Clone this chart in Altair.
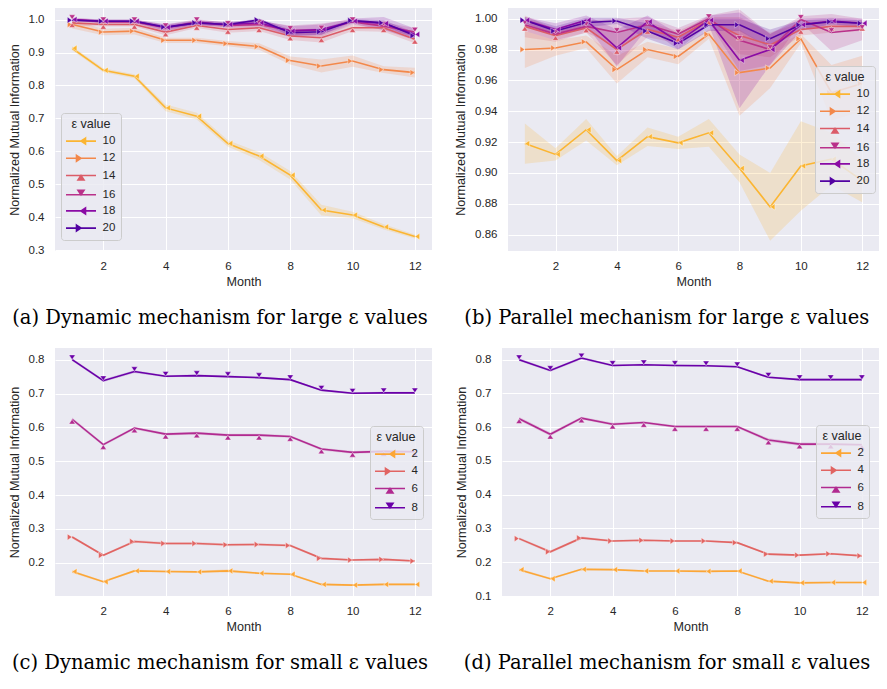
import altair as alt
import pandas as pd

MONTHS = list(range(1, 13))

# ---------------- (a) Dynamic mechanism, large epsilon ----------------
A_EPS = ["10", "12", "14", "16", "18", "20"]
A_MEAN = {
    "10": [0.913, 0.846, 0.828, 0.732, 0.707, 0.624, 0.586, 0.528, 0.422, 0.407, 0.371, 0.342],
    "12": [0.985, 0.962, 0.965, 0.937, 0.937, 0.927, 0.918, 0.876, 0.859, 0.874, 0.848, 0.839],
    "14": [0.990, 0.985, 0.985, 0.962, 0.982, 0.970, 0.975, 0.950, 0.945, 0.975, 0.975, 0.940],
    "16": [1.000, 0.993, 0.993, 0.975, 0.993, 0.982, 0.985, 0.967, 0.968, 0.993, 0.980, 0.962],
    "18": [1.000, 0.995, 0.995, 0.976, 0.990, 0.985, 0.990, 0.965, 0.970, 0.995, 0.988, 0.955],
    "20": [0.998, 0.995, 0.995, 0.977, 0.990, 0.985, 0.999, 0.960, 0.963, 0.997, 0.990, 0.951],
}
A_ERR = {
    "10": [0.006, 0.006, 0.006, 0.010, 0.010, 0.010, 0.012, 0.013, 0.016, 0.010, 0.008, 0.006],
    "12": [0.012, 0.010, 0.010, 0.008, 0.008, 0.008, 0.010, 0.012, 0.020, 0.017, 0.010, 0.015],
    "14": [0.008, 0.006, 0.006, 0.010, 0.008, 0.010, 0.010, 0.012, 0.015, 0.010, 0.012, 0.012],
    "16": [0.006, 0.006, 0.006, 0.010, 0.008, 0.008, 0.010, 0.015, 0.020, 0.008, 0.012, 0.012],
    "18": [0.004, 0.005, 0.005, 0.010, 0.008, 0.008, 0.008, 0.015, 0.015, 0.008, 0.020, 0.018],
    "20": [0.004, 0.004, 0.004, 0.006, 0.006, 0.006, 0.004, 0.010, 0.010, 0.004, 0.008, 0.010],
}

# ---------------- (b) Parallel mechanism, large epsilon ----------------
B_EPS = ["10", "12", "14", "16", "18", "20"]
B_MEAN = {
    "10": [0.919, 0.912, 0.928, 0.908, 0.9235, 0.9195, 0.926, 0.903, 0.878, 0.9045, 0.909, 0.895],
    "12": [0.980, 0.981, 0.985, 0.967, 0.980, 0.9755, 0.990, 0.965, 0.968, 0.987, 0.952, 0.958],
    "14": [0.995, 0.989, 0.994, 0.980, 0.993, 0.988, 0.999, 0.989, 0.983, 0.993, 0.995, 0.995],
    "16": [0.996, 0.990, 0.995, 0.991, 0.996, 0.990, 1.000, 0.986, 0.980, 0.9995, 0.991, 0.993],
    "18": [0.999, 0.993, 0.999, 0.981, 0.998, 0.985, 0.999, 0.973, 0.980, 0.996, 0.9985, 0.997],
    "20": [0.999, 0.992, 0.9975, 0.9985, 0.992, 0.984, 0.996, 0.996, 0.987, 0.996, 0.998, 0.997],
}
B_ERR = {
    "10": [0.013, 0.004, 0.007, 0.003, 0.006, 0.004, 0.009, 0.009, 0.022, 0.029, 0.017, 0.014],
    "12": [0.012, 0.005, 0.004, 0.009, 0.005, 0.005, 0.003, 0.028, 0.013, 0.003, 0.018, 0.018],
    "14": [0.007, 0.004, 0.003, 0.010, 0.005, 0.004, 0.002, 0.012, 0.008, 0.004, 0.004, 0.003],
    "16": [0.004, 0.004, 0.004, 0.009, 0.005, 0.004, 0.002, 0.020, 0.010, 0.002, 0.012, 0.007],
    "18": [0.002, 0.004, 0.003, 0.012, 0.004, 0.005, 0.003, 0.031, 0.010, 0.004, 0.002, 0.003],
    "20": [0.002, 0.003, 0.003, 0.002, 0.005, 0.004, 0.004, 0.004, 0.006, 0.003, 0.002, 0.002],
}

# ---------------- (c) Dynamic mechanism, small epsilon ----------------
C_EPS = ["2", "4", "6", "8"]
C_MEAN = {
    "2": [0.174, 0.144, 0.176, 0.174, 0.173, 0.176, 0.169, 0.166, 0.136, 0.134, 0.136, 0.136],
    "4": [0.276, 0.222, 0.263, 0.257, 0.257, 0.253, 0.254, 0.251, 0.213, 0.208, 0.210, 0.205],
    "6": [0.624, 0.549, 0.598, 0.580, 0.583, 0.577, 0.577, 0.573, 0.536, 0.526, 0.529, 0.528],
    "8": [0.800, 0.738, 0.765, 0.751, 0.753, 0.750, 0.747, 0.741, 0.710, 0.701, 0.702, 0.702],
}
C_ERR = {
    "2": [0.004, 0.003, 0.003, 0.003, 0.003, 0.005, 0.003, 0.003, 0.003, 0.003, 0.003, 0.003],
    "4": [0.004, 0.003, 0.004, 0.004, 0.004, 0.004, 0.004, 0.004, 0.003, 0.003, 0.003, 0.003],
    "6": [0.005, 0.004, 0.004, 0.004, 0.004, 0.004, 0.004, 0.004, 0.004, 0.004, 0.004, 0.004],
    "8": [0.004, 0.004, 0.004, 0.003, 0.003, 0.003, 0.003, 0.003, 0.003, 0.003, 0.003, 0.003],
}

# ---------------- (d) Parallel mechanism, small epsilon ----------------
D_EPS = ["2", "4", "6", "8"]
D_MEAN = {
    "2": [0.178, 0.151, 0.179, 0.178, 0.174, 0.174, 0.173, 0.174, 0.144, 0.139, 0.140, 0.140],
    "4": [0.270, 0.231, 0.272, 0.263, 0.265, 0.263, 0.263, 0.258, 0.224, 0.221, 0.225, 0.219],
    "6": [0.625, 0.579, 0.627, 0.609, 0.614, 0.602, 0.602, 0.602, 0.562, 0.550, 0.550, 0.548],
    "8": [0.800, 0.768, 0.805, 0.783, 0.785, 0.783, 0.782, 0.779, 0.748, 0.741, 0.741, 0.741],
}
D_ERR = {
    "2": [0.004, 0.003, 0.003, 0.003, 0.003, 0.003, 0.003, 0.003, 0.003, 0.003, 0.003, 0.003],
    "4": [0.004, 0.004, 0.004, 0.003, 0.003, 0.003, 0.003, 0.003, 0.003, 0.003, 0.003, 0.003],
    "6": [0.005, 0.005, 0.004, 0.004, 0.004, 0.004, 0.004, 0.004, 0.005, 0.005, 0.004, 0.004],
    "8": [0.004, 0.004, 0.004, 0.003, 0.003, 0.003, 0.003, 0.003, 0.003, 0.003, 0.003, 0.003],
}

LARGE_COLORS = ["#fbb532", "#f3884a", "#db5c68", "#b9318a", "#8a0ba5", "#5302a2"]
SMALL_COLORS = ["#fca636", "#e16462", "#b12a90", "#6a00a8"]
LARGE_MARKERS = ["left", "right", "up", "down", "left", "right"]
SMALL_MARKERS = ["left", "right", "up", "down"]

X_TICKS = [2, 4, 6, 8, 10, 12]
A_TICKS = [0.3, 0.4, 0.5, 0.6, 0.7, 0.8, 0.9, 1.0]
B_TICKS = [0.86, 0.88, 0.90, 0.92, 0.94, 0.96, 0.98, 1.00]
S_TICKS = [0.1, 0.2, 0.3, 0.4, 0.5, 0.6, 0.7, 0.8]

# caret markers (tip on the data point), plot and legend versions
CARET = {
    "left": "M1.5,-1L0,0L1.5,1Z",
    "right": "M-1.5,-1L0,0L-1.5,1Z",
    "up": "M-1,1.5L0,0L1,1.5Z",
    "down": "M-1,-1.5L0,0L1,-1.5Z",
}
LEG = {
    "left": "M-2,0H2M0.6,-0.4L0,0L0.6,0.4Z",
    "right": "M-2,0H2M-0.6,-0.4L0,0L-0.6,0.4Z",
    "up": "M-2,0H2M-0.4,0.6L0,0L0.4,0.6Z",
    "down": "M-2,0H2M-0.4,-0.6L0,0L0.4,-0.6Z",
}

TXT = "#262626"
FONT = "Liberation Sans"


def make_df(eps, mean, err):
    rows = []
    for i, e in enumerate(eps):
        for j, m in enumerate(MONTHS):
            v = mean[e][j]
            d = err[e][j]
            rows.append({"month": m, "eps": e, "k": i, "mean": v, "lo": v - d, "hi": v + d})
    return pd.DataFrame(rows)


def panel(eps, mean, err, colors, markers, ydom, yticks, yfmt, lx, ly, caption, w, h):
    df = make_df(eps, mean, err)
    base = alt.Chart(df)
    xs = alt.Scale(domain=[0.45, 12.55], nice=False, zero=False)
    xa = alt.Axis(values=X_TICKS, format="d", title="Month")
    ys = alt.Scale(domain=ydom, nice=False, zero=False)
    ya = alt.Axis(values=yticks, format=yfmt, title="Normalized Mutual Information")
    x = alt.X("month:Q", scale=xs, axis=xa)
    y = alt.Y("mean:Q", scale=ys, axis=ya)
    cs = alt.Scale(domain=eps, range=colors)

    band = base.mark_area(opacity=0.2, clip=True).encode(
        x=x, y=alt.Y("lo:Q", scale=ys, axis=ya), y2="hi:Q",
        color=alt.Color("eps:N", scale=cs, legend=None),
    )
    line = base.mark_line(strokeWidth=1.6, clip=True).encode(
        x=x, y=y, color=alt.Color("eps:N", scale=cs, legend=None),
    )
    pts = base.mark_point(filled=True, opacity=1, size=40, stroke="white",
                          strokeWidth=0.4, clip=True).encode(
        x=x, y=y,
        color=alt.Color("eps:N", scale=cs, legend=None),
        shape=alt.Shape("eps:N", scale=alt.Scale(domain=eps, range=[CARET[m] for m in markers]),
                        legend=None),
    )
    leg = alt.Legend(
        title="ε value", orient="none", legendX=lx, legendY=ly,
        fillColor="rgba(234,234,242,0.82)", strokeColor="#cccccc", cornerRadius=3,
        padding=5, symbolSize=225, symbolStrokeWidth=1.6, symbolOffset=6.5,
        labelOffset=13, rowPadding=2.2, titlePadding=2, titleAnchor="middle",
        titleFont=FONT, titleFontSize=12.6, titleFontWeight="normal", titleColor=TXT,
        labelFont=FONT, labelFontSize=11.5, labelColor=TXT,
    )
    legend_layer = base.transform_filter("datum.month > 100").mark_point(
        filled=True, opacity=1).encode(
        x=x, y=y,
        fill=alt.Fill("eps:N", scale=cs, legend=leg),
        stroke=alt.Stroke("eps:N", scale=cs, legend=leg),
        shape=alt.Shape("eps:N", scale=alt.Scale(domain=eps, range=[LEG[m] for m in markers]),
                        legend=leg),
    )
    return alt.layer(band, line, pts, legend_layer).resolve_scale(
        color="independent", shape="independent", fill="independent", stroke="independent"
    ).properties(
        width=w, height=h,
        title=alt.TitleParams(caption, orient="bottom", anchor="middle", frame="bounds",
                              font="DejaVu Serif", fontSize=19.5, fontWeight="normal",
                              color="black", offset=21),
    )


pa = panel(A_EPS, A_MEAN, A_ERR, LARGE_COLORS, LARGE_MARKERS, [0.298, 1.035], A_TICKS, ".1f",
           6, 105, "(a) Dynamic mechanism for large ε values", 377, 243)
pb = panel(B_EPS, B_MEAN, B_ERR, LARGE_COLORS, LARGE_MARKERS, [0.8494, 1.0069], B_TICKS, ".2f",
           307, 58, "(b) Parallel mechanism for large ε values", 371, 243)
pc = panel(C_EPS, C_MEAN, C_ERR, SMALL_COLORS, SMALL_MARKERS, [0.1018, 0.8345], S_TICKS, ".1f",
           315, 78, "(c) Dynamic mechanism for small ε values", 377, 248)
pd_ = panel(D_EPS, D_MEAN, D_ERR, SMALL_COLORS, SMALL_MARKERS, [0.1, 0.8347], S_TICKS, ".1f",
            314, 77, "(d) Parallel mechanism for small ε values", 377, 248)

top = alt.hconcat(pa, pb, spacing=76, bounds="flush")
bottom = alt.hconcat(pc, pd_, spacing=70, bounds="flush")

chart = alt.vconcat(top, bottom, spacing=20).properties(
    padding=0
).configure_view(
    fill="#EAEAF2", stroke=None
).configure_axis(
    domain=False, ticks=False, grid=True, gridColor="white", gridWidth=1,
    labelFont=FONT, titleFont=FONT, labelFontSize=11.5, titleFontSize=12.6,
    titleFontWeight="normal", labelColor=TXT, titleColor=TXT,
).configure_axisX(
    labelPadding=9, titlePadding=4
).configure_axisY(
    labelPadding=11, titlePadding=7
)

chart.save("out.html", embed_options={"renderer": "svg", "actions": False})
